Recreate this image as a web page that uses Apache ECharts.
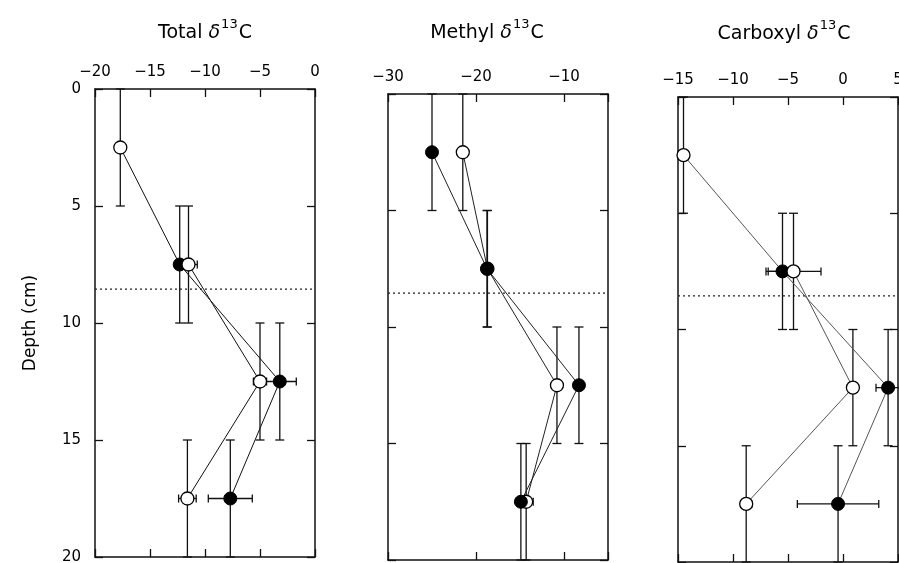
<!DOCTYPE html>
<html><head><meta charset="utf-8">
<script src="https://cdn.jsdelivr.net/npm/echarts@6/dist/echarts.min.js"></script>
<style>html,body{margin:0;padding:0;background:#fff}#c{width:899px;height:563px}</style>
</head><body><div id="c"></div>
<script>
// ---- data ----
const depths = [2.5, 7.5, 12.5, 17.5];
const depthTop = [0, 5, 10, 15];
const depthBottom = [5, 10, 15, 20];
const boundaryDepth = 8.55;

const panelTitles = ['Total', 'Methyl', 'Carboxyl'];
const xRanges = [[-20, 0], [-30, -5], [-15, 5]];
const xIntervals = [5, 10, 5];

const totalOpen = [-17.7, -11.5, -5.0, -11.6];
const totalOpenXErr = [0, 0.8, 0.6, 0.8];
const totalFilled = [null, -12.3, -3.2, -7.7];
const totalFilledXErr = [0, 0, 1.5, 2.0];

const methylOpen = [-21.5, -18.7, -10.8, -14.3];
const methylOpenXErr = [0, 0, 0, 0.8];
const methylFilled = [-25.0, -18.75, -8.3, -14.9];
const methylFilledXErr = [0, 0, 0, 0];

const carbOpen = [-14.5, -4.5, 0.9, -8.8];
const carbOpenXErr = [0, 2.5, 0, 0.5];
const carbFilled = [null, -5.5, 4.1, -0.45];
const carbFilledXErr = [0, 1.3, 1.1, 3.7];

const panels = [
  {open: totalOpen, openErr: totalOpenXErr, filled: totalFilled, filledErr: totalFilledXErr},
  {open: methylOpen, openErr: methylOpenXErr, filled: methylFilled, filledErr: methylFilledXErr},
  {open: carbOpen, openErr: carbOpenXErr, filled: carbFilled, filledErr: carbFilledXErr}
];

// ---- layout / style ----
const FONT = 'DejaVu Sans';
const grids = [
  {left: 95, top: 89, width: 220, height: 468, outerBoundsMode: 'none', containLabel: false},
  {left: 388, top: 94, width: 220, height: 466, outerBoundsMode: 'none', containLabel: false},
  {left: 678, top: 97, width: 220, height: 465, outerBoundsMode: 'none', containLabel: false}
];
const titleX = [205, 487, 784];
const titleY = [33, 33, 34];
const openOnTop = [true, false, true];
const lineColors = ['#111', '#222', '#555'];

function fmtTick(interval) {
  return function (v) {
    if (Math.abs(v % interval) > 1e-9) return '';
    return v < 0 ? '\u2212' + Math.abs(v) : String(v);
  };
}

function renderErr(params, api) {
  const x = api.value(0), y = api.value(1), xe = api.value(2), y0 = api.value(3), y1 = api.value(4);
  const a = api.coord([x, y0]);
  const b = api.coord([x, y1]);
  const cap = 4.5;
  const style = {stroke: '#111', lineWidth: 1.3};
  const ch = [
    {type: 'line', shape: {x1: a[0], y1: a[1], x2: b[0], y2: b[1]}, style: style},
    {type: 'line', shape: {x1: a[0] - cap, y1: a[1], x2: a[0] + cap, y2: a[1]}, style: style},
    {type: 'line', shape: {x1: b[0] - cap, y1: b[1], x2: b[0] + cap, y2: b[1]}, style: style}
  ];
  if (xe > 0) {
    const l = api.coord([x - xe, y]), r = api.coord([x + xe, y]);
    ch.push({type: 'line', shape: {x1: l[0], y1: l[1], x2: r[0], y2: r[1]}, style: style});
    ch.push({type: 'line', shape: {x1: l[0], y1: l[1] - 4, x2: l[0], y2: l[1] + 4}, style: style});
    ch.push({type: 'line', shape: {x1: r[0], y1: r[1] - 4, x2: r[0], y2: r[1] + 4}, style: style});
  }
  return {type: 'group', children: ch};
}

const xAxes = [], yAxes = [], series = [], graphics = [];
const axisLine = {show: true, onZero: false, lineStyle: {color: '#111', width: 1.5}};
const tick = {show: true, inside: true, length: 8, lineStyle: {color: '#111', width: 1.3}};
panels.forEach(function (p, i) {
  const rng = xRanges[i];
  xAxes.push({type: 'value', gridIndex: i, position: 'top', min: rng[0], max: rng[1], interval: xIntervals[i],
    axisLine: axisLine, splitLine: {show: false}, axisTick: tick,
    axisLabel: {show: true, margin: 9, color: '#000', fontFamily: FONT, fontSize: 15, formatter: fmtTick(xIntervals[i])}});
  yAxes.push({type: 'value', gridIndex: i, position: 'left', min: 0, max: 20, interval: 5, inverse: true,
    axisLine: axisLine, splitLine: {show: false}, axisTick: tick,
    axisLabel: {show: i === 0, margin: 14, color: '#000', fontFamily: FONT, fontSize: 15},
    name: i === 0 ? 'Depth (cm)' : '', nameLocation: 'middle', nameGap: 56,
    nameTextStyle: {color: '#000', fontFamily: FONT, fontSize: 17}});
});
panels.forEach(function (p, i) {
  const rng = xRanges[i];
  xAxes.push({type: 'value', gridIndex: i, position: 'bottom', min: rng[0], max: rng[1], interval: xIntervals[i],
    axisLine: axisLine, splitLine: {show: false}, axisTick: tick, axisLabel: {show: false}});
  yAxes.push({type: 'value', gridIndex: i, position: 'right', min: 0, max: 20, interval: 5, inverse: true,
    axisLine: axisLine, splitLine: {show: false}, axisTick: tick, axisLabel: {show: false}});
});

panels.forEach(function (p, i) {
  const errData = [];
  [[p.open, p.openErr], [p.filled, p.filledErr]].forEach(function (pair) {
    pair[0].forEach(function (v, k) {
      if (v !== null) errData.push([v, depths[k], pair[1][k], depthTop[k], depthBottom[k]]);
    });
  });
  series.push({type: 'custom', xAxisIndex: i, yAxisIndex: i, renderItem: renderErr, data: errData, z: 2, silent: true});

  // dotted boundary
  series.push({type: 'line', xAxisIndex: i, yAxisIndex: i, symbol: 'none', z: 1, silent: true,
    data: [[xRanges[i][0], boundaryDepth], [xRanges[i][1], boundaryDepth]],
    lineStyle: {color: '#222', width: 1.2, type: [2, 3]}});

  // connecting lines: the filled profile starts from the shared surface sample when absent
  const openLine = p.open.map(function (v, k) { return [v, depths[k]]; });
  const filledLine = p.filled.map(function (v, k) { return [v === null ? p.open[k] : v, depths[k]]; });
  series.push({type: 'line', xAxisIndex: i, yAxisIndex: i, symbol: 'none', z: 3, silent: true,
    data: p.filled[0] === null ? openLine.slice(1) : openLine,
    lineStyle: {color: lineColors[i], width: 1}});
  series.push({type: 'line', xAxisIndex: i, yAxisIndex: i, symbol: 'none', z: 3, silent: true,
    data: filledLine, lineStyle: {color: lineColors[i], width: 1}});

  series.push({type: 'scatter', xAxisIndex: i, yAxisIndex: i, symbol: 'circle', symbolSize: 13, z: openOnTop[i] ? 6 : 4,
    data: openLine, itemStyle: {color: '#fff', borderColor: '#000', borderWidth: 1.3, opacity: 1}});
  series.push({type: 'scatter', xAxisIndex: i, yAxisIndex: i, symbol: 'circle', symbolSize: 13, z: 5,
    data: p.filled.map(function (v, k) { return v === null ? null : [v, depths[k]]; }).filter(function (d) { return d; }),
    itemStyle: {color: '#000', borderColor: '#000', borderWidth: 1, opacity: 1}});

  graphics.push({type: 'text', x: titleX[i], y: titleY[i], style: {
    text: '{a|' + panelTitles[i] + ' }{d|\u03b4}{s|13}{a|C}',
    align: 'center', verticalAlign: 'middle',
    rich: {
      a: {fontFamily: FONT, fontSize: 19, fill: '#000'},
      d: {fontFamily: FONT, fontSize: 19, fontStyle: 'italic', fill: '#000'},
      s: {fontFamily: FONT, fontSize: 13, fill: '#000', padding: [0, 1, 16, 1]}
    }}});
});

const chart = echarts.init(document.getElementById('c'), null, {renderer: 'canvas'});
chart.setOption({
  animation: false,
  backgroundColor: '#fff',
  grid: grids,
  xAxis: xAxes,
  yAxis: yAxes,
  series: series,
  graphic: graphics
});
</script></body></html>
